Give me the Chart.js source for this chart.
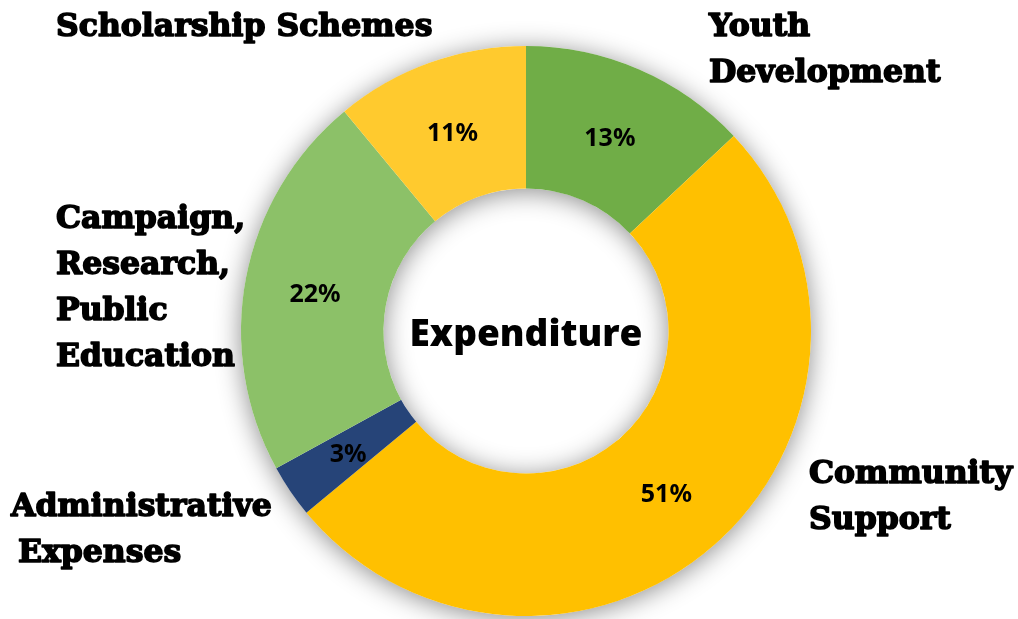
<!DOCTYPE html>
<html>
<head>
<meta charset="utf-8">
<script src="https://cdn.jsdelivr.net/npm/chart.js@4.4.0/dist/chart.umd.min.js"></script>
<style>
html,body{margin:0;padding:0;background:#ffffff;}
#wrap{position:relative;width:1018px;height:619px;}
</style>
</head>
<body>
<div id="wrap"><canvas id="c" width="1018" height="619"></canvas></div>
<script>
const categories = ["Youth Development", "Community Support", "Administrative Expenses", "Campaign, Research, Public Education", "Scholarship Schemes"];
const values = [13, 51, 3, 22, 11];
const percentLabels = ["13%", "51%", "3%", "22%", "11%"];
const colors = ["#70AD47", "#FFC000", "#264478", "#8CC168", "#FFCA2E"];
const centerTitle = "Expenditure";

const outerLabels = [
  {lines:["Scholarship Schemes"], x:55, y:28, indent:[0]},
  {lines:["Youth","Development"], x:708, y:28, indent:[0,0]},
  {lines:["Campaign,","Research,","Public","Education"], x:55, y:220, indent:[0,0,0,0]},
  {lines:["Administrative","Expenses"], x:10, y:508, indent:[0,7]},
  {lines:["Community","Support"], x:808, y:475, indent:[0,0]}
];

const shadowPlugin = {
  id:'shadow',
  beforeDatasetsDraw(chart){
    const meta = chart.getDatasetMeta(0);
    const a = meta.data[0];
    if(!a) return;
    const ctx = chart.ctx;
    ctx.save();
    ctx.shadowColor = 'rgba(0,0,0,0.45)';
    ctx.shadowBlur = 26;
    ctx.shadowOffsetX = 0;
    ctx.shadowOffsetY = 3;
    ctx.fillStyle = '#ffffff';
    ctx.beginPath();
    ctx.arc(a.x, a.y, a.outerRadius, 0, Math.PI*2);
    ctx.arc(a.x, a.y, a.innerRadius, 0, Math.PI*2, true);
    ctx.fill('evenodd');
    ctx.restore();
  }
};

const labelPlugin = {
  id:'labels',
  afterDraw(chart){
    const ctx = chart.ctx;
    const meta = chart.getDatasetMeta(0);
    ctx.save();
    ctx.fillStyle = '#000';
    ctx.textAlign = 'center';
    ctx.textBaseline = 'middle';
    ctx.font = 'bold 25px "Noto Sans", sans-serif';
    meta.data.forEach((arc, i) => {
      const p = arc.tooltipPosition();
      ctx.fillText(percentLabels[i], p.x - 1, p.y + 4);
    });
    // center title
    const a0 = meta.data[0];
    ctx.font = '800 37px "Open Sans", sans-serif';
    ctx.fillText(centerTitle, a0.x, a0.y + 4);
    // outer category labels
    ctx.textAlign = 'left';
    ctx.font = 'bold 31.5px "DejaVu Serif", serif';
    ctx.strokeStyle = '#000';
    ctx.lineWidth = 1.6;
    ctx.lineJoin = 'round';
    outerLabels.forEach(l => {
      l.lines.forEach((t, j) => {
        const x = l.x + l.indent[j] + 1, y = l.y + j * 46;
        ctx.strokeText(t, x, y);
        ctx.fillText(t, x, y);
      });
    });
    ctx.restore();
  }
};

new Chart(document.getElementById('c'), {
  type:'doughnut',
  data:{
    labels: categories,
    datasets:[{
      data: values,
      backgroundColor: colors,
      borderWidth: 0,
      hoverOffset: 0
    }]
  },
  options:{
    responsive:false,
    animation:false,
    cutout:'50%',
    layout:{padding:{left:241, right:207, top:46, bottom:3}},
    plugins:{legend:{display:false}, tooltip:{enabled:false}}
  },
  plugins:[shadowPlugin, labelPlugin]
});
</script>
</body>
</html>
